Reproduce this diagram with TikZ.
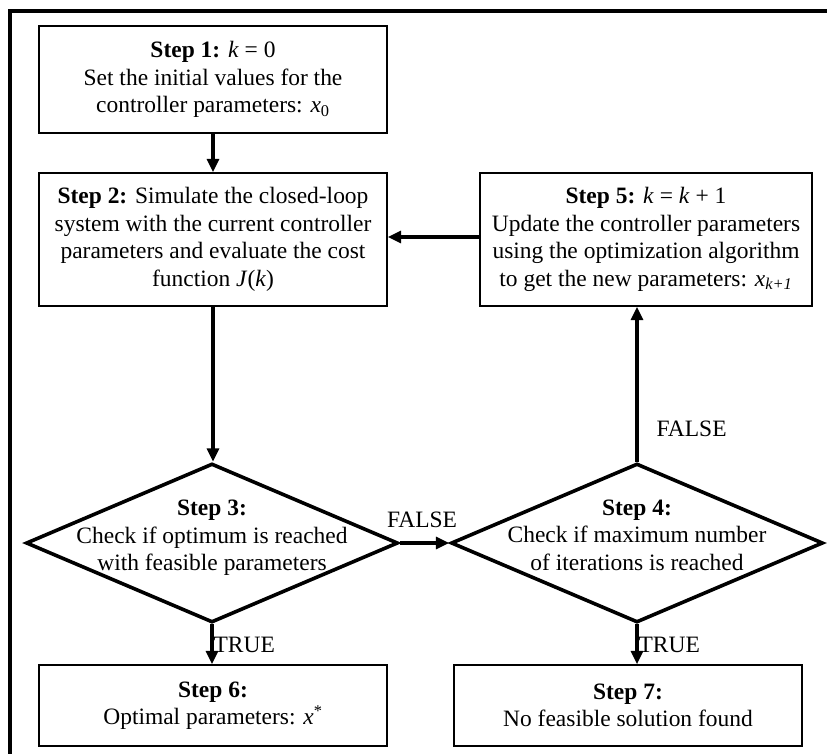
\documentclass[tikz,border=0pt]{standalone}
\usepackage{fontspec}
\setmainfont{Liberation Serif}
\usetikzlibrary{shapes.geometric,arrows.meta}
\begin{document}
\begin{tikzpicture}[x=0.75pt,y=-0.75pt,
  txt/.style={font=\fontsize{17.6}{20.6}\selectfont, align=center},
  stepbox/.style={draw, line width=1.1pt, inner sep=0pt, minimum width=261pt, txt},
  dia/.style={draw, diamond, line width=2.7pt, inner sep=0pt, minimum width=279pt, minimum height=119.25pt},
  arr/.style={line width=2.3pt, -{Triangle[length=10pt,width=9pt]}},
  lbl/.style={font=\fontsize{17.6}{20.6}\selectfont, inner sep=1pt}]
\useasboundingbox (0,0) rectangle (827,753);
\clip (0,0) rectangle (827,753);
\draw[line width=2.3pt] (10,11) rectangle (860,800);

\node[stepbox, minimum height=80.25pt] (b1) at (213,79.5)
  {\textbf{Step 1:} \textit{k} = 0\\Set the initial values for the\\controller parameters: \textit{x}\textsubscript{0}};
\node[stepbox, minimum height=99.75pt] (b2) at (213,239.5)
  {\textbf{Step 2:} Simulate the closed-loop\\system with the current controller\\parameters and evaluate the cost\\function \textit{J}(\textit{k})};
\node[stepbox, minimum width=249pt, minimum height=99.75pt] (b5) at (646,239.5)
  {\textbf{Step 5:} \textit{k} = \textit{k} + 1\\Update the controller parameters\\using the optimization algorithm\\to get the new parameters: \textit{x}\textsubscript{\textit{k+1}}};

\node[dia] (d3) at (212,543) {};
\node[txt] (d3t) at (212,538) {\textbf{Step 3:}\\Check if optimum is reached\\with feasible parameters};
\node[dia] (d4) at (637,543) {};
\node[txt] (d4t) at (637,535) {\textbf{Step 4:}\\Check if maximum number\\of iterations is reached};

\node[stepbox, minimum height=60.75pt] (b6) at (213,705.5)
  {\textbf{Step 6:}\\Optimal parameters: \textit{x}\textsuperscript{*}};
\node[stepbox, minimum height=60.75pt] (b7) at (628,705.5)
  {\textbf{Step 7:}\\No feasible solution found};

\draw[arr] (b1.south) -- (b2.north);
\draw[arr] (b2.south) -- (b2.south |- d3.north);
\draw[arr] (d3.east) -- (d4.west);
\node[lbl] (f1) at (422,520) {FALSE};
\draw[arr] (d4.north) -- (d4.north |- b5.south);
\node[lbl, anchor=west] (f2) at (655,429) {FALSE};
\draw[arr] (b5.west |- 0,237) -- (b2.east |- 0,237);
\draw[arr] (d3.south) -- (d3.south |- b6.north);
\node[lbl, anchor=west] (t1) at (d3.south |- 0,645) {TRUE};
\draw[arr] (d4.south) -- (d4.south |- b7.north);
\node[lbl, anchor=west] (t2) at (d4.south |- 0,645) {TRUE};
\end{tikzpicture}
\end{document}
